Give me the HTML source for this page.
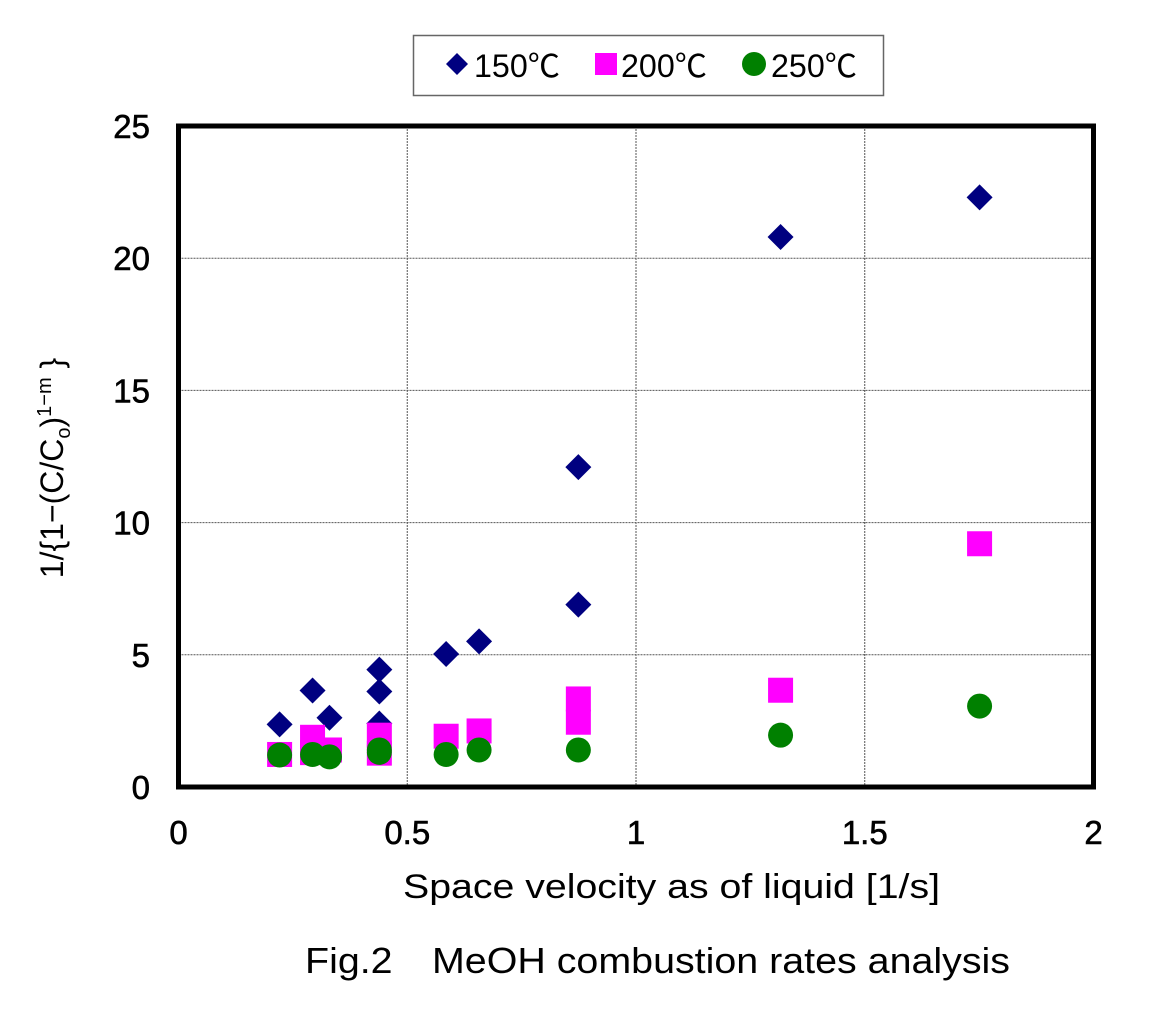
<!DOCTYPE html>
<html><head><meta charset="utf-8"><style>
body{margin:0;background:#fff;}
svg text{font-family:"Liberation Sans","Noto Sans CJK JP",sans-serif;fill:#000;}
</style></head><body>
<svg width="1158" height="1016" viewBox="0 0 1158 1016">
<g id="grid"></g>
<g id="marks"></g>
<rect x="178.5" y="126" width="915" height="661" fill="none" stroke="#000" stroke-width="5"/>
<g id="ticks"></g>
<text x="403" y="898" font-size="34" textLength="537" lengthAdjust="spacingAndGlyphs">Space velocity as of liquid [1/s]</text>
<text transform="translate(63,468) rotate(-90)" font-size="32" text-anchor="middle">1/{1−(C/C<tspan font-size="20" dy="7">o</tspan><tspan dy="-7">)</tspan><tspan font-size="20" dy="-12">1−m</tspan><tspan dy="12"> }</tspan></text>
<text x="305" y="973" font-size="36" textLength="705" lengthAdjust="spacingAndGlyphs">Fig.2　MeOH combustion rates analysis</text>
<g>
<rect x="413.5" y="35.5" width="470" height="60" fill="#fff" stroke="#666" stroke-width="1.5"/>
<polygon points="457,53 468,64 457,75 446,64" fill="#000080"/>
<text x="474" y="77" font-size="32" textLength="86" lengthAdjust="spacingAndGlyphs">150℃</text>
<rect x="595" y="53" width="22" height="22" fill="#ff00ff"/>
<text x="621" y="77" font-size="32" textLength="86" lengthAdjust="spacingAndGlyphs">200℃</text>
<circle cx="754" cy="64" r="12" fill="#008000"/>
<text x="771" y="77" font-size="32" textLength="86" lengthAdjust="spacingAndGlyphs">250℃</text>
</g>
</svg>
<script>
const xTicks=[0,0.5,1,1.5,2];
const xTickLabels=["0","0.5","1","1.5","2"];
const yTicks=[0,5,10,15,20,25];
const yTickLabels=["0","5","10","15","20","25"];
const x150=[0.221,0.293,0.33,0.439,0.439,0.439,0.585,0.657,0.874,0.874,1.316,1.751];
const y150=[2.37,3.65,2.62,4.44,3.61,2.4,5.03,5.51,6.9,12.1,20.8,22.3];
const x200=[0.221,0.293,0.293,0.33,0.439,0.439,0.585,0.657,0.874,0.874,1.316,1.751];
const y200=[1.23,1.88,1.3,1.4,1.96,1.28,1.92,2.12,3.33,2.45,3.66,9.2];
const x250=[0.221,0.293,0.33,0.439,0.439,0.585,0.657,0.874,1.316,1.751];
const y250=[1.21,1.23,1.14,1.31,1.4,1.23,1.4,1.4,1.96,3.06];
const NS="http://www.w3.org/2000/svg";
const X0=178.5,X1=1093.5,Y0=787,Y1=126;
function sx(v){return X0+(v-0)/(2-0)*(X1-X0);}
function sy(v){return Y0-(v-0)/(25-0)*(Y0-Y1);}
function mk(tag,attrs,parent){const e=document.createElementNS(NS,tag);for(const k in attrs)e.setAttribute(k,attrs[k]);parent.appendChild(e);return e;}
const grid=document.getElementById('grid'),ticks=document.getElementById('ticks'),marks=document.getElementById('marks');
xTicks.forEach((t,i)=>{
  if(i>0&&i<xTicks.length-1){const l=mk('line',{x1:sx(t),x2:sx(t),y1:Y1,y2:Y0,stroke:'#555','stroke-width':1,'stroke-dasharray':'2,1'},grid);
  
  }
  const tx=mk('text',{x:sx(t),y:844,'font-size':33,'text-anchor':'middle',stroke:'#000','stroke-width':0.6},ticks);tx.textContent=xTickLabels[i];
  
  
});
yTicks.forEach((t,i)=>{
  if(i>0&&i<yTicks.length-1){const l=mk('line',{x1:X0,x2:X1,y1:sy(t),y2:sy(t),stroke:'#555','stroke-width':1,'stroke-dasharray':'2,1'},grid);
  
  }
  const tx=mk('text',{x:150,y:sy(t)+12,'font-size':33,'text-anchor':'end',stroke:'#000','stroke-width':0.6},ticks);tx.textContent=yTickLabels[i];
  
  
});
x150.forEach((v,i)=>{const cx=sx(v),cy=sy(y150[i]),r=13;
  const p=mk('polygon',{points:`${cx},${cy-r} ${cx+r},${cy} ${cx},${cy+r} ${cx-r},${cy}`,fill:'#000080'},marks);
  
  });
x200.forEach((v,i)=>{const cx=sx(v),cy=sy(y200[i]);
  const p=mk('rect',{x:cx-12.5,y:cy-12.5,width:25,height:25,fill:'#ff00ff'},marks);
  
  });
x250.forEach((v,i)=>{
  const p=mk('circle',{cx:sx(v),cy:sy(y250[i]),r:12.5,fill:'#008000'},marks);
  
  });
</script>
</body></html>
